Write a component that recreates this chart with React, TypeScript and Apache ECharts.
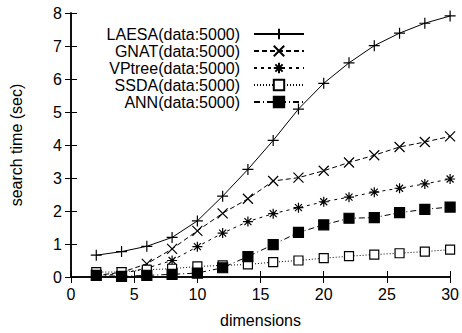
import React, { useEffect, useRef } from "react";
import * as echarts from "echarts";

const dims = [2, 4, 6, 8, 10, 12, 14, 16, 18, 20, 22, 24, 26, 28, 30];
const seriesNames = [
  "LAESA(data:5000)",
  "GNAT(data:5000)",
  "VPtree(data:5000)",
  "SSDA(data:5000)",
  "ANN(data:5000)",
];
const laesa = [0.66, 0.77, 0.93, 1.2, 1.7, 2.45, 3.26, 4.14, 5.09, 5.87, 6.49, 7.01, 7.39, 7.69, 7.91];
const gnat = [0.05, 0.14, 0.4, 0.85, 1.4, 1.93, 2.37, 2.91, 3.01, 3.22, 3.47, 3.69, 3.94, 4.09, 4.26];
const vptree = [0.05, 0.1, 0.27, 0.5, 0.92, 1.33, 1.68, 1.92, 2.1, 2.28, 2.42, 2.57, 2.69, 2.82, 2.97];
const ssda = [0.15, 0.15, 0.22, 0.25, 0.32, 0.35, 0.38, 0.45, 0.5, 0.57, 0.63, 0.68, 0.72, 0.77, 0.83];
const ann = [0.05, 0.02, 0.05, 0.08, 0.12, 0.28, 0.62, 0.98, 1.35, 1.58, 1.78, 1.8, 1.95, 2.05, 2.12];
const xTicks = [0, 5, 10, 15, 20, 25, 30];
const yTicks = [0, 1, 2, 3, 4, 5, 6, 7, 8];

const FONT = "Liberation Sans, Arial, Helvetica, sans-serif";

export default function App() {
  const ref = useRef<HTMLDivElement>(null);
  useEffect(() => {
    if (!ref.current) return;
    const chart = echarts.init(ref.current, undefined, { renderer: "svg" });
    const pair = (arr: number[]) => dims.map((d, i) => [d, arr[i]]);
    const plus = "path://M0,5L10,5M5,0L5,10";
    const cross = "path://M0,0L10,10M10,0L0,10";
    const star = "path://M0,5L10,5M5,0L5,10M1.5,1.5L8.5,8.5M8.5,1.5L1.5,8.5";
    const defs = [
      { data: laesa, symbol: plus, size: 11, fill: "#000", dash: "solid" as any },
      { data: gnat, symbol: cross, size: 10, fill: "#000", dash: [5, 3] },
      { data: vptree, symbol: star, size: 10, fill: "#000", dash: [3, 4] },
      { data: ssda, symbol: "rect", size: 9, fill: "#fff", dash: [1, 2] },
      { data: ann, symbol: "rect", size: 10, fill: "#000", dash: [6, 3, 1, 3] },
    ];
    const series = defs.map((d, i) => ({
      name: seriesNames[i],
      type: "line",
      data: pair(d.data),
      symbol: d.symbol,
      symbolSize: d.size,
      showAllSymbol: true,
      lineStyle: { color: "#000", width: 1, type: d.dash },
      itemStyle: { color: d.fill, borderColor: "#000", borderWidth: 1.2 },
      emphasis: { disabled: true },
      z: 2 + i,
    }));
    const legendTops = [21, 38, 55, 72, 89];
    const legends = seriesNames.map((n, i) => ({
      data: [n],
      top: legendTops[i],
      right: 152,
      align: "right",
      orient: "vertical",
      itemWidth: 50,
      itemHeight: 13,
      selectedMode: false,
      textStyle: { fontFamily: FONT, fontSize: 16, color: "#000", padding: [0, 9, 0, 0] },
    }));
    const axisCommon = {
      type: "value",
      axisLine: { show: true, lineStyle: { color: "#000", width: 1.5 } },
      axisTick: { show: true, inside: true, length: 6, lineStyle: { color: "#000", width: 1 } },
      splitLine: { show: false },
    };
    chart.setOption({
      animation: false,
      backgroundColor: "#fff",
      grid: { left: 65, right: 9, top: 13, bottom: 53, containLabel: false },
      legend: legends,
      xAxis: [
        {
          ...axisCommon,
          min: xTicks[0],
          max: xTicks[xTicks.length - 1],
          interval: 5,
          name: "dimensions",
          nameLocation: "middle",
          nameGap: 35,
          nameTextStyle: { fontFamily: FONT, fontSize: 16, color: "#000" },
          axisLabel: { fontFamily: FONT, fontSize: 16, color: "#000", margin: 9 },
        },
        {
          ...axisCommon,
          position: "top",
          min: xTicks[0],
          max: xTicks[xTicks.length - 1],
          interval: 5,
          axisLabel: { show: false },
        },
      ],
      yAxis: [
        {
          ...axisCommon,
          min: yTicks[0],
          max: yTicks[yTicks.length - 1],
          interval: 1,
          name: "search time (sec)",
          nameLocation: "middle",
          nameGap: 47,
          nameTextStyle: { fontFamily: FONT, fontSize: 16, color: "#000" },
          axisLabel: { fontFamily: FONT, fontSize: 16, color: "#000", margin: 9 },
        },
        {
          ...axisCommon,
          position: "right",
          min: yTicks[0],
          max: yTicks[yTicks.length - 1],
          interval: 1,
          axisLabel: { show: false },
        },
      ],
      series,
    });
    return () => chart.dispose();
  }, []);
  return <div ref={ref} style={{ width: 462, height: 333, position: "absolute", left: 0, top: 0 }} />;
}
